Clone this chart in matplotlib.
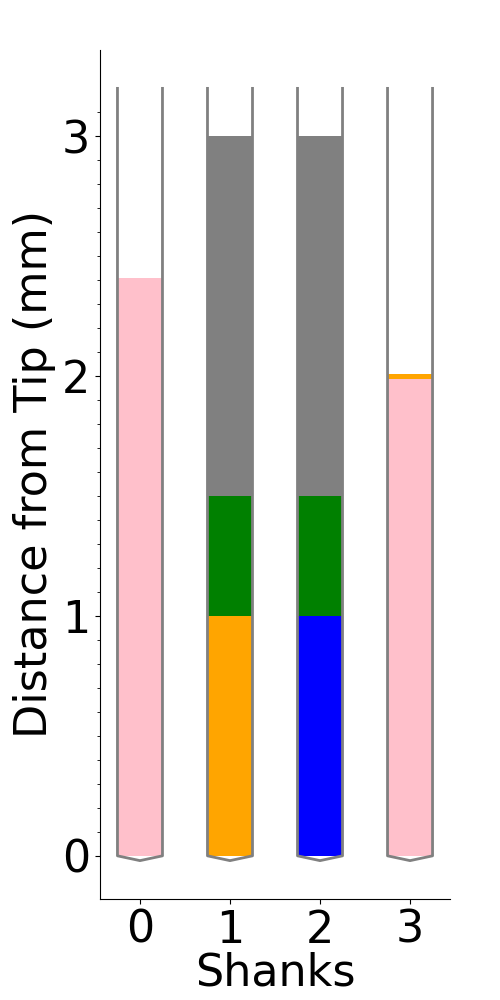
import numpy as np
import matplotlib
matplotlib.use('Agg')
import matplotlib.pyplot as plt

# shank layout (mm)
shanks = [0, 1, 2, 3]
shank_length = 3.2
tip_depth = 0.02
half_width = 0.25

# regions per shank: (bottom, top, colour)
regions = {
    0: [(0.0, 2.41, 'pink')],
    1: [(0.0, 1.0, 'orange'), (1.0, 1.5, 'green'), (1.5, 3.0, 'grey')],
    2: [(0.0, 1.0, 'blue'), (1.0, 1.5, 'green'), (1.5, 3.0, 'grey')],
    3: [(0.0, 1.99, 'pink'), (1.99, 2.01, 'orange')],
}

major_ticks = [0, 1, 2, 3]
minor_ticks = [round(0.1 * i, 1) for i in range(1, 32) if i % 10 != 0]

fig = plt.figure(figsize=(5, 10), dpi=100)
ax = fig.add_axes([0.2, 0.101, 0.7, 0.849])

for s in shanks:
    for bottom, top, color in regions[s]:
        ax.fill_between([s - half_width, s + half_width], bottom, top, color=color, lw=0)
    # outline of the shank with a pointed tip
    xs = [s - half_width, s - half_width, s, s + half_width, s + half_width]
    ys = [shank_length, 0, -tip_depth, 0, shank_length]
    ax.plot(xs, ys, color='grey', lw=2)

ax.set_xlim(-0.444, 3.444)
ax.set_ylim(-0.18, 3.36)
ax.set_xticks(shanks)
ax.set_yticks(major_ticks)
ax.set_yticks(minor_ticks, minor=True)
ax.tick_params(axis='both', labelsize=32)
ax.set_xlabel('Shanks', fontsize=32, labelpad=0)
ax.set_ylabel('Distance from Tip (mm)', fontsize=32)
ax.spines['top'].set_visible(False)
ax.spines['right'].set_visible(False)

plt.savefig('out.png', dpi=100)
